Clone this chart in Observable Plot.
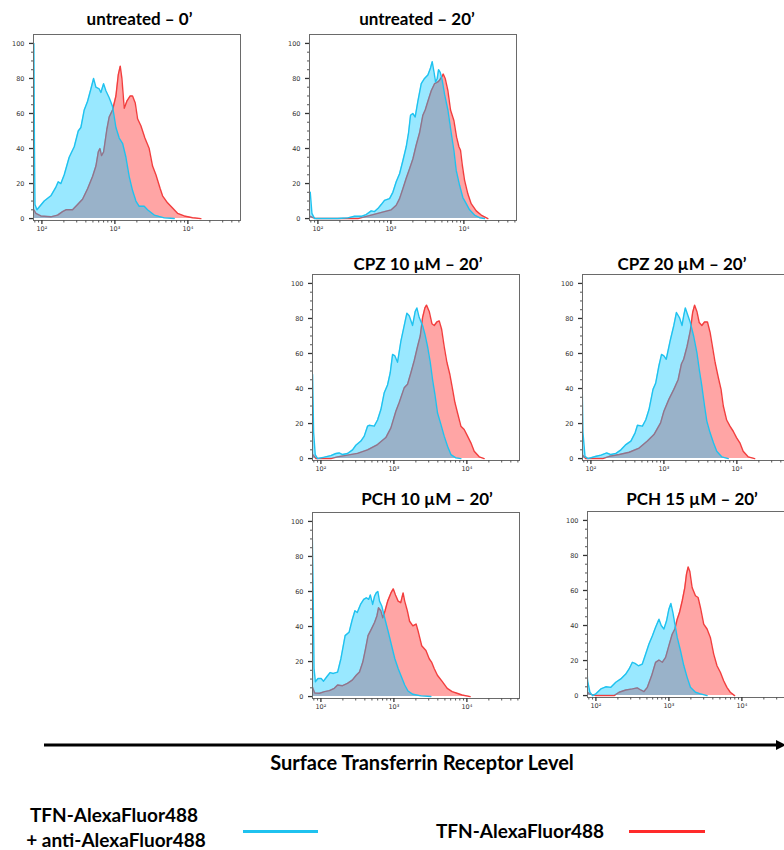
<!DOCTYPE html>
<html><head><meta charset="utf-8">
<script src="https://cdn.jsdelivr.net/npm/d3@7"></script>
<script src="https://cdn.jsdelivr.net/npm/@observablehq/plot@0.6"></script>
<style>
html,body{margin:0;padding:0;background:#fff;}
#root{position:relative;width:784px;height:850px;overflow:hidden;font-family:Lato,"Open Sans",sans-serif;color:#000;}
.panel{position:absolute;}
.panel svg{max-width:none !important;}
.txt{position:absolute;transform:translate(-50%,-50%);font-weight:700;white-space:nowrap;text-align:center;}
.title{font-size:17px;}
.big{font-size:20px;}
.legt{font-size:19px;}
.leg{position:absolute;height:3px;}
</style></head><body><div id="root"></div><script>
// ---- data: [log10 fluorescence, % of max] ----
const untreated0_anti = [[1.890,100],[1.898,40],[1.905,8],[1.932,5],[2.032,10],[2.123,13],[2.192,18],[2.224,21],[2.260,20],[2.306,25],[2.374,35],[2.443,41],[2.498,50],[2.534,52],[2.580,62],[2.626,67],[2.671,74],[2.708,80],[2.740,75],[2.785,74],[2.808,72],[2.845,77],[2.877,73],[2.922,69],[2.968,64],[3.014,52],[3.059,46],[3.105,43],[3.151,35],[3.196,24],[3.242,16],[3.288,10],[3.333,7],[3.402,7],[3.447,5],[3.539,2],[3.676,0.4],[3.813,0]];
const untreated0_tfn = [[1.890,5],[1.918,3],[1.986,1.5],[2.123,1],[2.215,2],[2.283,4],[2.329,5],[2.420,5],[2.489,8],[2.557,11],[2.626,17],[2.694,24],[2.740,30],[2.772,38],[2.795,40],[2.817,36],[2.845,38],[2.890,51],[2.922,58],[2.968,62],[3.014,70],[3.046,82],[3.073,87],[3.096,80],[3.128,63],[3.164,67],[3.210,70],[3.242,70],[3.279,66],[3.311,57],[3.356,53],[3.411,46],[3.470,40],[3.516,30],[3.562,25],[3.621,17],[3.653,13],[3.721,9],[3.790,6],[3.858,3],[3.950,1.5],[4.064,0.5],[4.178,0]];

const untreated20_anti = [[1.895,15],[1.918,3],[1.954,0],[2.274,0],[2.411,0.4],[2.502,1.3],[2.594,1.3],[2.662,2.3],[2.731,4.4],[2.776,4],[2.822,5.7],[2.868,8],[2.913,10.4],[2.982,11.4],[3.027,15],[3.073,21],[3.119,25.6],[3.164,33],[3.210,41],[3.242,49],[3.269,59],[3.301,60],[3.333,58],[3.370,67],[3.416,77],[3.461,80],[3.507,82],[3.543,86],[3.566,89.6],[3.589,84],[3.612,78],[3.635,80],[3.653,85],[3.676,83.5],[3.703,79],[3.735,71],[3.781,62],[3.826,49],[3.863,39],[3.895,27.5],[3.941,19],[3.986,12],[4.032,8.5],[4.078,5],[4.146,2],[4.215,0.5],[4.283,0]];
const untreated20_tfn = [[1.895,1.3],[1.932,0.5],[1.977,0],[2.548,0],[2.639,1],[2.731,2],[2.822,3],[2.913,4],[3.005,5],[3.073,7.6],[3.119,11.4],[3.164,17],[3.210,23],[3.256,28.5],[3.301,34],[3.347,42],[3.393,49],[3.438,59],[3.470,62],[3.507,67],[3.553,73],[3.598,77],[3.644,78],[3.667,79],[3.699,81],[3.717,82.5],[3.744,80],[3.781,73],[3.817,62],[3.863,56],[3.900,46.5],[3.932,41],[3.954,39],[3.977,31],[4.009,22],[4.055,14],[4.100,8.5],[4.169,4.4],[4.237,2],[4.329,0]];

const cpz10_anti = [[1.886,48],[1.900,15],[1.922,2.3],[1.954,0],[2.046,0.8],[2.137,1.7],[2.205,2.9],[2.251,3.2],[2.297,2.3],[2.365,2.9],[2.434,5],[2.479,7.6],[2.548,10],[2.594,12.8],[2.639,18.5],[2.662,19],[2.731,18.5],[2.776,22],[2.822,28],[2.868,37.6],[2.913,42],[2.950,49],[2.982,59.5],[3.014,58.6],[3.050,55],[3.096,67],[3.142,76],[3.178,83],[3.210,81.5],[3.256,76],[3.292,84],[3.315,86],[3.347,80.5],[3.393,76],[3.425,71],[3.461,64],[3.498,55],[3.530,45],[3.562,36.6],[3.598,26],[3.644,19.5],[3.689,12.8],[3.735,7],[3.781,2.3],[3.849,0.4],[3.918,0]];
const cpz10_tfn = [[1.886,2.3],[1.932,0],[2.137,0],[2.228,1],[2.365,2],[2.502,3],[2.639,5],[2.776,8],[2.890,12],[2.959,17.5],[3.027,27],[3.073,32],[3.142,40.5],[3.187,42.4],[3.233,49],[3.279,56],[3.324,64],[3.361,70],[3.393,80.5],[3.425,86],[3.447,87.6],[3.484,84],[3.521,77],[3.553,76],[3.589,78],[3.621,78.6],[3.653,74],[3.689,64],[3.726,55],[3.767,48],[3.804,39.5],[3.836,32],[3.872,26],[3.918,18.5],[3.963,16.6],[4.009,12.8],[4.055,9],[4.100,4.2],[4.169,1],[4.237,0]];

const cpz20_anti = [[1.878,48],[1.891,15],[1.919,1.3],[1.959,0],[2.072,1.3],[2.140,2],[2.217,3.2],[2.276,2.3],[2.344,3],[2.412,5],[2.480,8],[2.548,10],[2.606,14.7],[2.638,19],[2.706,18.5],[2.751,22],[2.796,28],[2.851,39.5],[2.887,43],[2.932,53],[2.968,59.5],[3.000,58.6],[3.032,56.7],[3.090,68],[3.136,76],[3.172,83.4],[3.213,80.5],[3.249,76],[3.271,81.5],[3.294,86],[3.330,81.5],[3.362,77.7],[3.407,70],[3.452,60.5],[3.484,51],[3.520,41.4],[3.557,30],[3.588,21.4],[3.633,14.7],[3.679,9],[3.724,4.2],[3.792,1],[3.882,0]];
const cpz20_tfn = [[1.878,2.3],[1.928,0],[2.163,0],[2.253,1.3],[2.389,2.3],[2.525,3.6],[2.661,6],[2.774,10],[2.864,13.7],[2.955,20.4],[3.000,27],[3.068,33.8],[3.136,39.5],[3.195,45],[3.240,54],[3.271,56.7],[3.317,64],[3.362,73],[3.394,83.4],[3.421,87.6],[3.452,84],[3.484,77.7],[3.520,76],[3.557,78],[3.597,78],[3.633,72],[3.665,64],[3.701,55],[3.747,46],[3.783,39.5],[3.814,30],[3.860,22],[3.905,18.5],[3.950,15.6],[3.995,12],[4.041,9],[4.086,4.2],[4.154,1],[4.244,0]];

const pch10_anti = [[1.879,100],[1.892,65],[1.906,16],[1.924,8.5],[1.960,10.3],[2.004,10.3],[2.036,8.8],[2.081,11.3],[2.126,13.7],[2.170,13.2],[2.229,14],[2.274,21.6],[2.332,34.8],[2.386,36.7],[2.430,44],[2.466,49],[2.498,48],[2.543,52.6],[2.587,55.5],[2.623,56.4],[2.655,55.5],[2.677,58],[2.709,52.6],[2.735,57.3],[2.758,59.2],[2.780,60],[2.803,54.5],[2.834,51.7],[2.879,44],[2.924,36.7],[2.969,29],[3.013,21.6],[3.058,16],[3.103,11.3],[3.148,6.6],[3.193,3.2],[3.260,1.3],[3.372,0.4],[3.507,0]];
const pch10_tfn = [[1.879,6],[1.915,2],[1.982,1.9],[2.049,2.8],[2.117,3.4],[2.184,4.7],[2.229,6.6],[2.296,6.2],[2.363,7.5],[2.430,9.4],[2.484,12.2],[2.529,14],[2.574,19.7],[2.610,27],[2.646,34.8],[2.691,38.5],[2.735,42.3],[2.767,46],[2.789,50.7],[2.821,49],[2.848,45],[2.879,49],[2.915,54.5],[2.960,59.2],[2.991,61.5],[3.022,58],[3.058,54.5],[3.094,53.6],[3.126,59.2],[3.148,54.5],[3.184,49],[3.215,43],[3.260,40.4],[3.305,41.4],[3.336,36.7],[3.381,29],[3.439,26.3],[3.484,21.6],[3.516,19.7],[3.552,16],[3.596,12.2],[3.664,8.5],[3.731,4.7],[3.798,2.8],[3.865,1.9],[3.933,0.9],[4.045,0]];

const pch15_anti = [[1.864,24.7],[1.886,8.5],[1.918,1.9],[1.955,0],[2.000,1],[2.068,3.8],[2.136,5],[2.205,4.7],[2.273,7.6],[2.341,9.5],[2.409,12.3],[2.455,15.2],[2.500,19],[2.536,18.4],[2.582,17],[2.636,18],[2.682,23.7],[2.727,29.4],[2.773,34],[2.818,39],[2.864,43.6],[2.895,40],[2.932,38],[2.968,42.7],[3.000,49.3],[3.027,52.6],[3.055,47.4],[3.082,40.8],[3.114,33.2],[3.159,25.6],[3.205,17],[3.250,10.4],[3.295,4.7],[3.364,1.9],[3.432,1],[3.523,0]];
const pch15_tfn = [[1.864,2.8],[1.909,1],[2.000,0],[2.250,0],[2.318,1.9],[2.409,3.2],[2.500,3.8],[2.568,4.4],[2.614,3.2],[2.659,2.3],[2.705,4.7],[2.764,11.4],[2.818,19],[2.864,20.3],[2.909,19],[2.955,21.8],[3.000,28.5],[3.045,35],[3.082,38],[3.114,43.6],[3.145,47.4],[3.182,54],[3.218,61.7],[3.241,69.3],[3.264,73.4],[3.286,71],[3.318,61.7],[3.364,57],[3.400,56],[3.432,50.3],[3.477,40.8],[3.523,38],[3.568,33.2],[3.614,23.7],[3.659,17],[3.705,13.3],[3.750,8.5],[3.795,4.7],[3.841,1.9],[3.900,0]];

const panelTitles = ["untreated – 0’", "untreated – 20’", "CPZ 10 µM – 20’", "CPZ 20 µM – 20’", "PCH 10 µM – 20’", "PCH 15 µM – 20’"];
const seriesLabels = ["TFN-AlexaFluor488\n+ anti-AlexaFluor488", "TFN-AlexaFluor488"];
const axisTitle = "Surface Transferrin Receptor Level";
const yMajorTicks = [0, 20, 40, 60, 80, 100];
const yMinorTicks = [5, 10, 15, 25, 30, 35, 45, 50, 55, 65, 70, 75, 85, 90, 95];
const xMajorTicks = [100, 1000, 10000];
const xMajorLabels = ["10²", "10³", "10⁴"];
const xMinorTicks = [80, 90, 200, 300, 400, 500, 600, 700, 800, 900, 2000, 3000, 4000, 5000, 6000, 7000, 8000, 9000, 20000, 30000, 40000, 50000];

const seriesData = [
  [untreated0_anti, untreated0_tfn],
  [untreated20_anti, untreated20_tfn],
  [cpz10_anti, cpz10_tfn],
  [cpz20_anti, cpz20_tfn],
  [pch10_anti, pch10_tfn],
  [pch15_anti, pch15_tfn]
];

// ---- layout ----
const layout = [
  {left: 33, top: 34, tx: 139.5, ty: 18},
  {left: 309, top: 34, tx: 417, ty: 18},
  {left: 312, top: 274, tx: 418, ty: 263},
  {left: 582, top: 274, tx: 682, ty: 263},
  {left: 312, top: 512, tx: 427, ty: 498},
  {left: 587, top: 511, tx: 692, ty: 498}
];
const ML = 26, MT = 2, FW = 207, FH = 186, MR = 4, MB = 22;
const CYAN_LINE = "#1fc2ef", CYAN_FILL = "rgb(0,197,255)", RED_LINE = "#f23e3e", RED_FILL = "#ffa5a5";

const root = document.getElementById("root");

function toRows(arr) { return arr.map(([e, v]) => ({x: 10 ** e, y: v})); }

seriesData.forEach(([anti, tfn], i) => {
  const L = layout[i];
  const a = toRows(anti), t = toRows(tfn);
  const W = ML + FW + MR, H = MT + FH + MB;
  const chart = Plot.plot({
    width: W, height: H,
    marginLeft: ML, marginTop: MT, marginRight: MR, marginBottom: MB,
    style: {fontFamily: "'DejaVu Sans', 'Liberation Sans', sans-serif", fontSize: "6.5px", background: "transparent", color: "#333", overflow: "visible"},
    x: {type: "log", domain: [76.7, 52600]},
    y: {domain: [-1.1, 105.1]},
    marks: [
      Plot.areaY(t, {x: "x", y: "y", fill: RED_FILL, clip: true}),
      Plot.lineY(t, {x: "x", y: "y", stroke: RED_LINE, strokeWidth: 1.4, clip: true}),
      Plot.areaY(a, {x: "x", y: "y", fill: CYAN_FILL, fillOpacity: 0.4, clip: true}),
      Plot.lineY(a, {x: "x", y: "y", stroke: CYAN_LINE, strokeWidth: 1.4, clip: true}),
      Plot.frame({stroke: "#6a6a6a", strokeWidth: 1}),
      Plot.axisY({ticks: yMajorTicks, tickSize: 4, tickPadding: 5, label: null, stroke: "#333", strokeWidth: 1.3}),
      Plot.axisY({ticks: yMinorTicks, tickSize: 2, text: null, label: null, stroke: "#555"}),
      Plot.axisX({ticks: xMajorTicks, tickFormat: (d) => xMajorLabels[xMajorTicks.indexOf(d)], tickSize: 4, tickPadding: 2, label: null, stroke: "#333", strokeWidth: 1.3}),
      Plot.axisX({ticks: xMinorTicks, tickSize: 2.5, text: null, label: null, stroke: "#555"})
    ]
  });
  chart.style.maxWidth = "none";
  chart.style.width = W + "px";
  chart.style.height = H + "px";
  const div = document.createElement("div");
  div.className = "panel";
  div.style.left = (L.left - ML) + "px";
  div.style.top = (L.top - MT) + "px";
  div.style.width = W + "px";
  div.style.height = H + "px";
  div.appendChild(chart);
  root.appendChild(div);

  const title = document.createElement("div");
  title.className = "txt title";
  title.style.left = L.tx + "px";
  title.style.top = L.ty + "px";
  title.textContent = panelTitles[i];
  root.appendChild(title);
});

// axis arrow
const arrowSvg = d3.create("svg").attr("width", 784).attr("height", 20)
  .style("position", "absolute").style("left", "0px").style("top", "735px");
arrowSvg.append("line").attr("x1", 44).attr("x2", 778).attr("y1", 10).attr("y2", 10)
  .attr("stroke", "#000").attr("stroke-width", 3);
arrowSvg.append("path").attr("d", "M776,5 L786,10 L776,15 Z").attr("fill", "#000");
root.appendChild(arrowSvg.node());

function addText(txt, x, y, cls, color) {
  const d = document.createElement("div");
  d.className = "txt " + cls;
  d.style.left = x + "px"; d.style.top = y + "px";
  if (color) d.style.color = color;
  d.textContent = txt;
  root.appendChild(d);
  return d;
}
addText(axisTitle, 422, 762, "big");
const [l1, l2] = seriesLabels[0].split("\n");
addText(l1, 114, 814, "legt");
addText(l2, 116, 839, "legt");
addText(seriesLabels[1], 520, 830, "legt");

function addLegLine(x1, x2, y, color) {
  const d = document.createElement("div");
  d.className = "leg";
  d.style.left = x1 + "px"; d.style.width = (x2 - x1) + "px";
  d.style.top = (y - 1.5) + "px"; d.style.background = color;
  root.appendChild(d);
}
addLegLine(243, 318, 831, CYAN_LINE);
addLegLine(629, 705, 831, "#ff2a2a");
</script></body></html>
